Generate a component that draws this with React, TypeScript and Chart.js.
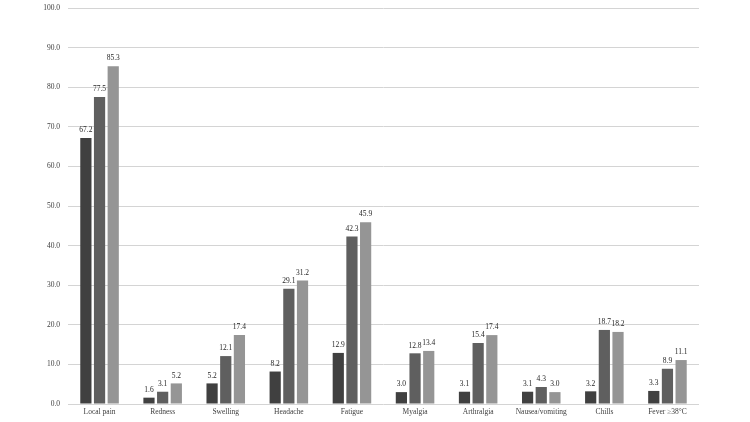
import React, { useEffect, useRef } from "react";
import { Chart, registerables } from "chart.js";

Chart.register(...registerables);

const categories = ["Local pain", "Redness", "Swelling", "Headache", "Fatigue", "Myalgia", "Arthralgia", "Nausea/vomiting", "Chills", "Fever \u226538\u00B0C"];
const series1 = [67.2, 1.6, 5.2, 8.2, 12.9, 3.0, 3.1, 3.1, 3.2, 3.3];
const series2 = [77.5, 3.1, 12.1, 29.1, 42.3, 12.8, 15.4, 4.3, 18.7, 8.9];
const series3 = [85.3, 5.2, 17.4, 31.2, 45.9, 13.4, 17.4, 3.0, 18.2, 11.1];
const colors = ["#404040", "#5f5f5f", "#959595"];
const FONT = "'Liberation Serif', 'Times New Roman', serif";

const labelPlugin = {
  id: "barLabels",
  afterDatasetsDraw(chart: any) {
    const ctx = chart.ctx;
    ctx.save();
    ctx.font = `7.5px ${FONT}`;
    ctx.fillStyle = "#262626";
    ctx.textAlign = "center";
    ctx.textBaseline = "bottom";
    chart.data.datasets.forEach((ds: any, i: number) => {
      const meta = chart.getDatasetMeta(i);
      meta.data.forEach((bar: any, j: number) => {
        ctx.fillText(Number(ds.data[j]).toFixed(1), bar.x, bar.y - 4);
      });
    });
    ctx.restore();
  },
};

export default function App() {
  const ref = useRef<HTMLCanvasElement>(null);
  useEffect(() => {
    if (!ref.current) return;
    const chart = new Chart(ref.current, {
      type: "bar",
      data: {
        labels: categories,
        datasets: [series1, series2, series3].map((d, i) => ({
          label: "S" + (i + 1),
          data: d,
          backgroundColor: colors[i],
          categoryPercentage: 0.65,
          barPercentage: 0.82,
        })),
      },
      options: {
        animation: false,
        responsive: false,
        layout: { padding: { left: 0, right: 51, top: 8, bottom: 0 } },
        plugins: { legend: { display: false }, tooltip: { enabled: false } },
        scales: {
          x: {
            grid: { display: false, drawTicks: false },
            border: { display: false },
            ticks: { font: { family: FONT, size: 7.5 }, color: "#404040", maxRotation: 0, autoSkip: false, padding: 4 },
            afterFit: (s: any) => { s.height = 18; s.paddingLeft = 0; s.paddingRight = 0; },
          },
          y: {
            min: 0,
            max: 100,
            grid: { color: "#d4d4d4", drawTicks: false, lineWidth: 1 },
            border: { display: false },
            ticks: {
              stepSize: 10,
              padding: 8,
              font: { family: FONT, size: 7.5 },
              color: "#404040",
              callback: (v: any) => Number(v).toFixed(1),
            },
            afterFit: (s: any) => { s.width = 68; s.paddingTop = 0; s.paddingBottom = 0; },
          },
        },
      },
      plugins: [labelPlugin],
    });
    return () => chart.destroy();
  }, []);
  return (
    <div style={{ position: "fixed", left: 0, top: 0, width: 750, height: 422, background: "#fff" }}>
      <canvas ref={ref} width={750} height={422} />
    </div>
  );
}
